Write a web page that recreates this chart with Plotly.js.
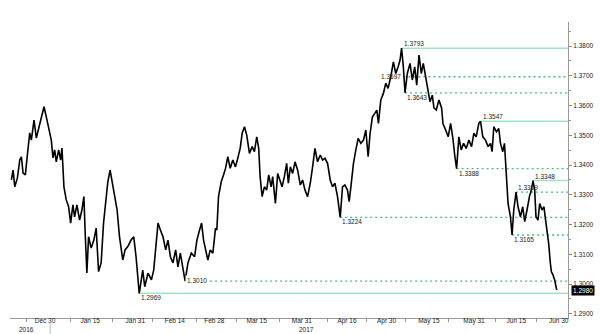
<!DOCTYPE html>
<html>
<head>
<meta charset="utf-8">
<script src="https://cdn.plot.ly/plotly-3.0.1.min.js"></script>
<style>html,body{margin:0;padding:0;background:#fff;}#chart{width:600px;height:334px;}</style>
</head>
<body>
<div id="chart"></div>
<script>
// ---- DATA ----
// days since 2016-12-30 00:00
const dayOffset = [-11.91,-11.31,-10.71,-9.79,-8.94,-8.37,-7.77,-6.96,-6.25,-5.41,
-4.84,-3.89,-3.07,-2.23,-1.31,-0.35,0.46,1.31,2.23,2.83,
3.43,3.99,4.84,5.55,6.01,6.71,7.53,8.37,9.08,9.89,
10.49,11.31,12.26,13.07,13.78,14.24,14.84,15.44,16.36,17.31,
18.13,18.98,19.89,20.74,21.31,22.26,23.07,24.03,24.84,25.55,
26.40,27.56,28.37,29.33,30.49,31.45,32.26,32.86,33.39,34.63,
35.34,36.50,37.70,38.52,39.22,40.04,40.88,41.80,42.76,43.57,
44.42,45.34,46.29,47.10,47.95,48.87,49.65,50.64,51.84,53.00,
53.82,54.77,55.48,56.18,56.89,57.70,58.55,59.47,60.42,60.88,
61.48,62.44,63.25,63.96,64.77,65.62,66.54,67.49,68.30,69.15,
69.86,70.67,71.48,72.44,73.39,74.20,75.02,75.72,76.22,76.93,
77.74,78.55,79.26,80.11,80.67,81.63,82.44,83.29,83.99,84.81,
85.62,86.22,86.93,87.74,88.59,89.51,90.46,91.27,92.12,93.04,
93.99,94.81,95.65,96.57,97.53,98.34,99.19,100.11,101.06,101.87,
102.72,103.64,104.59,105.41,106.25,107.17,107.77,108.37,109.29,110.14,
110.95,111.91,112.83,113.67,114.49,115.19,116.01,116.86,117.56,118.13,
118.98,119.89,120.74,121.55,122.51,123.43,124.28,125.09,125.80,126.33,
126.96,127.56,128.37,129.33,130.14,130.99,131.70,132.51,133.32,134.03,
134.88,135.69,136.40,137.21,137.81,138.62,139.58,140.53,140.99,141.94,
142.86,143.71,144.52,145.23,145.83,146.64,147.46,148.30,149.22,150.18,
151.13,151.94,152.76,153.71,154.31,155.12,156.08,157.00,157.84,158.41,
159.01,159.96,160.78,161.38,162.19,162.79,163.36,164.06,164.91,165.48,
166.08,166.89,167.60,168.45,169.26,169.96,170.78,171.63,172.33,172.90,
173.50,173.96,174.66,175.27,176.08,176.78,177.28,177.84,178.45,179.05,
179.40,179.96,180.57,181.17,181.38];

const price = [1.3350,1.3383,1.3327,1.3356,1.3417,1.3428,1.3373,1.3367,1.3434,1.3508,
1.3484,1.3551,1.3491,1.3524,1.3568,1.3596,1.3562,1.3529,1.3484,1.3424,
1.3451,1.3411,1.3451,1.3417,1.3457,1.3327,1.3283,1.3260,1.3205,1.3266,
1.3226,1.3266,1.3215,1.3249,1.3294,1.3172,1.3037,1.3159,1.3121,1.3148,
1.3188,1.3042,1.3071,1.3205,1.3266,1.3344,1.3383,1.3327,1.3294,1.3249,
1.3159,1.3081,1.3115,1.3126,1.3148,1.3159,1.3092,1.3014,1.2969,1.3047,
1.2991,1.3037,1.3014,1.3047,1.3115,1.3205,1.3182,1.3159,1.3115,1.3148,
1.3092,1.3071,1.3115,1.3058,1.3104,1.3058,1.3010,1.3071,1.3104,1.3092,
1.3148,1.3182,1.3205,1.3148,1.3115,1.3081,1.3115,1.3104,1.3188,1.3182,
1.3294,1.3344,1.3367,1.3389,1.3428,1.3389,1.3417,1.3394,1.3423,1.3456,
1.3507,1.3529,1.3501,1.3439,1.3462,1.3445,1.3495,1.3456,1.3361,1.3294,
1.3327,1.3316,1.3367,1.3327,1.3361,1.3271,1.3372,1.3344,1.3327,1.3361,
1.3406,1.3339,1.3394,1.3372,1.3411,1.3383,1.3333,1.3350,1.3316,1.3294,
1.3339,1.3394,1.3456,1.3411,1.3434,1.3417,1.3423,1.3406,1.3350,1.3327,
1.3339,1.3294,1.3224,1.3327,1.3333,1.3316,1.3277,1.3327,1.3406,1.3451,
1.3490,1.3473,1.3484,1.3518,1.3428,1.3507,1.3562,1.3574,1.3585,1.3540,
1.3619,1.3641,1.3675,1.3658,1.3697,1.3747,1.3708,1.3730,1.3753,1.3793,
1.3730,1.3643,1.3708,1.3742,1.3686,1.3730,1.3669,1.3770,1.3708,1.3742,
1.3697,1.3641,1.3613,1.3635,1.3592,1.3585,1.3619,1.3591,1.3540,1.3518,
1.3495,1.3540,1.3490,1.3428,1.3388,1.3495,1.3451,1.3473,1.3456,1.3484,
1.3462,1.3507,1.3495,1.3540,1.3547,1.3495,1.3484,1.3462,1.3473,1.3445,
1.3529,1.3512,1.3523,1.3473,1.3445,1.3473,1.3361,1.3271,1.3226,1.3165,
1.3249,1.3309,1.3260,1.3226,1.3260,1.3210,1.3249,1.3294,1.3316,1.3348,
1.3316,1.3226,1.3215,1.3271,1.3249,1.3260,1.3221,1.3182,1.3137,1.3070,
1.3042,1.3031,1.3014,1.2986,1.2980];

const levelValue    = [1.3793, 1.3697, 1.3643, 1.3547, 1.3388, 1.3348, 1.3309, 1.3224, 1.3165, 1.3010, 1.2969];
const levelStartDay = [126.33, 127.0, 127.56, 154.31, 145.83, 172.90, 166.89, 104.59, 165.48, 49.65, 33.39];

const xTickDays   = [0, 16, 32, 46, 60, 75, 91, 107, 121, 136, 152, 167, 182];
const xTickText   = ['Dec 30','Jan 15','Jan 31','Feb 14','Feb 28','Mar 15','Mar 31','Apr 16','Apr 30','May 15','May 31','Jun 15','Jun 30'];
const xMarkDays   = [-6.4, 9.2, 24, 38.2, 53.7, 67.8, 83, 100, 114, 127.6, 143, 159.7, 174];
const yTickVals   = [1.29,1.30,1.31,1.32,1.33,1.34,1.35,1.36,1.37,1.38];
const lastValue   = 1.2980;

// ---- STYLE ----
const levelDotted = [false,true,true,false,true,false,true,true,true,true,false];
const levelLabelPos = ['above','left','below','above','below','above','above','below','below','on','below'];
const SOLID = '#a3e3c6', DOTTED = '#3cc47e';
const FONT = 'Liberation Sans, Arial, sans-serif';

const base = Date.UTC(2016, 11, 30);
function toDate(d){ return new Date(base + d*86400000).toISOString().slice(0,19).replace('T',' '); }

const xRange = [toDate(-12.4), toDate(185.3)];
const xs = dayOffset.map(toDate);

const traces = [
  {x: xs, y: price, type:'scatter', mode:'lines', line:{color:'#000', width:1.6}, hoverinfo:'skip', showlegend:false},
  {x: xMarkDays.map(toDate), y: xMarkDays.map(()=>null), xaxis:'x2', yaxis:'y', type:'scatter', mode:'lines', hoverinfo:'skip', showlegend:false}
];

const shapes = [];
const annotations = [];
levelValue.forEach((v,i)=>{
  shapes.push({type:'line', xref:'x', yref:'y', x0: toDate(levelStartDay[i]), x1: xRange[1], y0: v, y1: v,
    line:{color: levelDotted[i]?DOTTED:SOLID, width: levelDotted[i]?1.3:1.5, dash: levelDotted[i]?'2px,3px':'solid'}, layer:'below'});
  const pos = levelLabelPos[i];
  const a = {xref:'x', yref:'y', x: toDate(levelStartDay[i]), y: v, text: v.toFixed(4), showarrow:false,
    font:{family:FONT, size:6.5, color:'#222'}, xanchor:'left', yanchor:'middle'};
  if(pos==='above'){ a.yanchor='bottom'; a.yshift=-1; }
  else if(pos==='below'){ a.yanchor='top'; a.yshift=1; }
  else if(pos==='left'){ a.xanchor='right'; }
  else if(pos==='on'){ a.bgcolor='#fff'; a.yshift=1; }
  annotations.push(a);
});
// last value box
annotations.push({xref:'paper', yref:'y', x:1, y:lastValue, xanchor:'left', yanchor:'middle', xshift:3,
  text: lastValue.toFixed(4), showarrow:false, bgcolor:'#000', font:{family:FONT, size:6.5, color:'#fff'}, borderpad:1});
// year labels
annotations.push({xref:'x', yref:'paper', x: toDate(-6.4), y:-0.038, text:'2016', showarrow:false, font:{family:FONT, size:6.5, color:'#222'}, yanchor:'middle'});
annotations.push({xref:'x', yref:'paper', x: toDate(92.6), y:-0.038, text:'2017', showarrow:false, font:{family:FONT, size:6.5, color:'#222'}, yanchor:'middle'});
shapes.push({type:'line', xref:'x', yref:'paper', x0: toDate(1.8), x1: toDate(1.8), y0:-0.012, y1:-0.055, line:{color:'#bbb', width:1}});

const layout = {
  width:600, height:334,
  margin:{l:10, r:32, t:22, b:16},
  paper_bgcolor:'#fff', plot_bgcolor:'#fff',
  showlegend:false,
  xaxis:{type:'date', range:xRange, tickvals: xTickDays.map(toDate), ticktext: xTickText, ticks:'',
    ticklabelstandoff:-4,
    showgrid:false, zeroline:false, showline:true, linecolor:'#999', linewidth:1,
    tickfont:{family:FONT, size:6.5, color:'#222'}, fixedrange:true},
  xaxis2:{type:'date', range:xRange, overlaying:'x', anchor:'y', side:'bottom', tickvals: xMarkDays.map(toDate),
    showticklabels:false, ticks:'outside', ticklen:3, tickcolor:'#999', showgrid:false, zeroline:false, showline:false},
  yaxis:{side:'right', range:[1.2886, 1.3881], tickvals: yTickVals, tickformat:'.4f', ticks:'outside', ticklen:3,
    tickcolor:'#888', showgrid:false, zeroline:false, showline:true, linecolor:'#999', linewidth:1,
    minor:{dtick:0.005, tick0:1.29, ticks:'outside', ticklen:2, tickcolor:'#999'},
    tickfont:{family:FONT, size:6.5, color:'#222'}},
  shapes, annotations
};

Plotly.newPlot('chart', traces, layout, {staticPlot:true, displayModeBar:false});
</script>
</body>
</html>
